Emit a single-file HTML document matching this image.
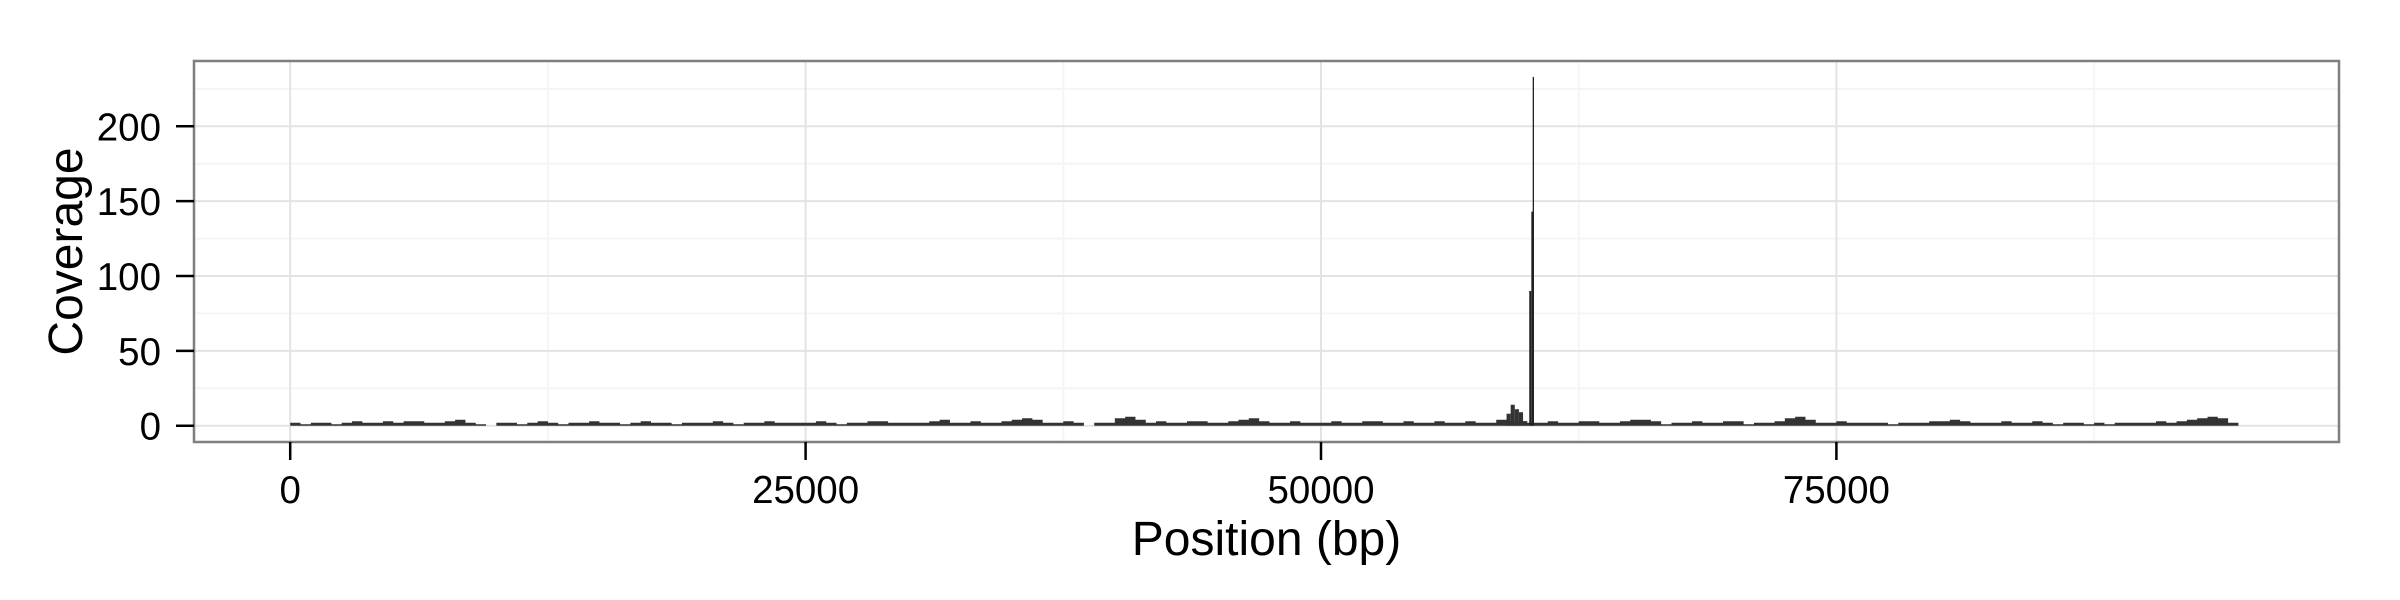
<!DOCTYPE html>
<html><head><meta charset="utf-8">
<style>
html,body{margin:0;padding:0;background:#fff;}
svg{display:block;font-family:"Liberation Sans",Arial,sans-serif;}
</style></head>
<body>
<svg id="chart" width="2400" height="600" viewBox="0 0 2400 600" xmlns="http://www.w3.org/2000/svg"></svg>
<script>
// ---- data ----
const binSize = 500;
const coverage = [
2,1,2,2,1,2,3,2,2,3,2,3,3,2,2,3,4,2,1,0,
2,2,1,2,3,2,1,2,2,3,2,2,1,2,3,2,2,1,2,2,
2,3,2,1,2,2,3,2,2,2,2,3,2,1,2,2,3,3,2,2,
2,2,3,4,2,2,3,2,2,3,4,5,4,2,2,3,2,0,2,2,
5,6,4,2,3,2,2,3,3,2,2,3,4,5,3,2,2,3,2,2,
2,3,2,2,3,3,2,2,3,2,2,3,2,2,3,2,2,4,3,3,
2,2,3,2,2,3,3,2,2,3,4,4,3,1,2,2,3,2,2,3,
3,1,2,2,3,5,6,4,2,2,3,2,2,2,2,1,2,2,2,3,
3,4,3,2,2,2,3,2,2,3,2,1,2,2,1,2,1,2,2,2,
2,3,2,3,4,5,6,5,2
];
const spikePositions = [60150, 60250, 60300];
const spikeValues = [90, 143, 233];
const peakPositions = [59000, 59200, 59400, 59600, 59800];
const peakValues = [8, 14, 11, 9, 3];
const xTicks = [0, 25000, 50000, 75000];
const xTickLabels = ["0", "25000", "50000", "75000"];
const xMinor = [12500, 37500, 62500, 87500];
const yTicks = [0, 50, 100, 150, 200];
const yTickLabels = ["0", "50", "100", "150", "200"];
const yMinor = [25, 75, 125, 175, 225];

// ---- layout ----
const NS = "http://www.w3.org/2000/svg";
const svg = document.getElementById('chart');
const P = {l:194, t:61, r:2339, b:442};
const xScale = v => 290.2 + v * (515.4 / 25000);
const yScale = v => 425.7 - v * (299.4 / 200);
function mk(tag, attrs, parent) {
  const e = document.createElementNS(NS, tag);
  for (const k in attrs) e.setAttribute(k, attrs[k]);
  (parent || svg).appendChild(e);
  return e;
}

const bg = mk('rect', {x:P.l, y:P.t, width:P.r-P.l, height:P.b-P.t, fill:'#fff'});



const grid = mk('g', {});


yMinor.forEach(v => {
  const l = mk('line', {x1:P.l, x2:P.r, y1:yScale(v), y2:yScale(v), stroke:'#f5f5f5', 'stroke-width':2}, grid);
  
  
});
xMinor.forEach(v => {
  const l = mk('line', {x1:xScale(v), x2:xScale(v), y1:P.t, y2:P.b, stroke:'#f5f5f5', 'stroke-width':2}, grid);
  
  
});
yTicks.forEach(v => {
  const l = mk('line', {x1:P.l, x2:P.r, y1:yScale(v), y2:yScale(v), stroke:'#e3e3e3', 'stroke-width':2}, grid);
  
  
});
xTicks.forEach(v => {
  const l = mk('line', {x1:xScale(v), x2:xScale(v), y1:P.t, y2:P.b, stroke:'#e3e3e3', 'stroke-width':2}, grid);
  
  
});

// coverage area (step)
let d = 'M' + xScale(0) + ',' + yScale(0);
coverage.forEach((v, i) => {
  const x0 = xScale(i * binSize), x1 = xScale((i + 1) * binSize);
  d += ' L' + x0 + ',' + yScale(v) + ' L' + x1 + ',' + yScale(v);
});
d += ' L' + xScale(coverage.length * binSize) + ',' + yScale(0) + ' Z';
const area = mk('path', {d:d, fill:'#333'});



peakPositions.forEach((p, i) => {
  const r = mk('rect', {x:xScale(p), y:yScale(peakValues[i]), width:xScale(p+200)-xScale(p), height:yScale(0)-yScale(peakValues[i]), fill:'#333'});
  
  
});
spikePositions.forEach((p, i) => {
  const w = i === 2 ? 1.3 : 2;
  const r = mk('rect', {x:xScale(p) - w/2, y:yScale(spikeValues[i]), width:w, height:yScale(0)-yScale(spikeValues[i]), fill:'#222'});
  
  
});

const border = mk('rect', {x:P.l, y:P.t, width:P.r-P.l, height:P.b-P.t, fill:'none', stroke:'#7f7f7f', 'stroke-width':2.5});



// axes
yTicks.forEach((v, i) => {
  const t = mk('line', {x1:176, x2:P.l, y1:yScale(v), y2:yScale(v), stroke:'#000', 'stroke-width':2.5});
  
  
  const tx = mk('text', {x:161, y:yScale(v) + 14, 'text-anchor':'end', 'font-size':38.5, fill:'#000'});
  tx.textContent = yTickLabels[i];
  
  
});
xTicks.forEach((v, i) => {
  const t = mk('line', {x1:xScale(v), x2:xScale(v), y1:P.b, y2:460, stroke:'#000', 'stroke-width':2.5});
  
  
  const tx = mk('text', {x:xScale(v), y:503, 'text-anchor':'middle', 'font-size':38.5, fill:'#000'});
  tx.textContent = xTickLabels[i];
  
  
});

const xt = mk('text', {x:(P.l+P.r)/2, y:555, 'text-anchor':'middle', 'font-size':48, fill:'#000'});
xt.textContent = 'Position (bp)';



const yt = mk('text', {x:0, y:0, 'text-anchor':'middle', 'font-size':48, fill:'#000', transform:'translate(82,' + ((P.t+P.b)/2) + ') rotate(-90)'});
yt.textContent = 'Coverage';


</script>
</body></html>
